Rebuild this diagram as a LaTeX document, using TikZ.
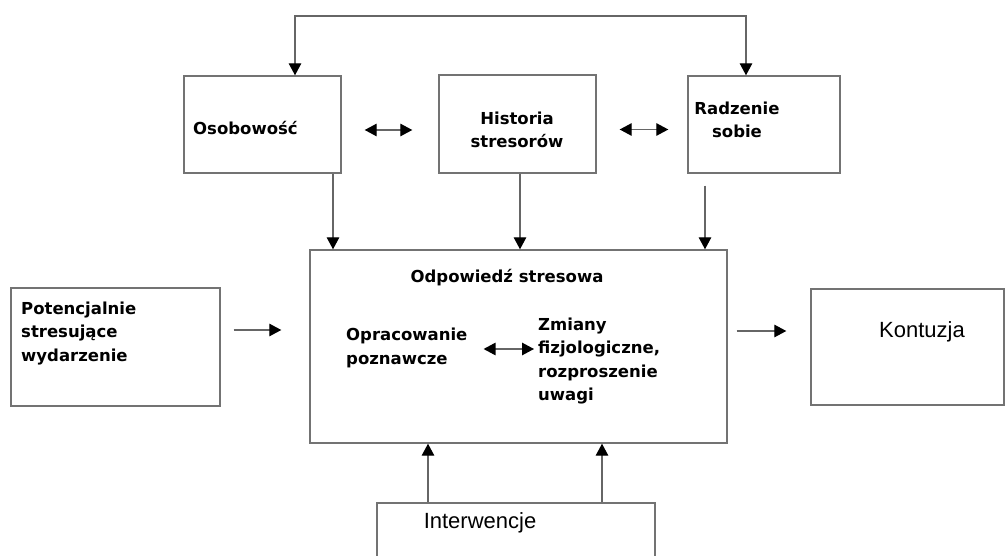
\documentclass[tikz,border=0pt]{standalone}
\usepackage{fontspec}
\setmainfont{DejaVu Sans}
\newfontfamily\arialfont{Liberation Sans}
\usetikzlibrary{arrows.meta}

\begin{document}
\begin{tikzpicture}[x=1pt, y=-1pt, >={Triangle[length=12pt,width=12.5pt,color=black]},
		box/.style={draw=black!55, line width=1.4pt, rectangle, inner sep=0pt},
		txt/.style={font=\fontsize{16.5}{23.5}\selectfont\bfseries, inner sep=0pt},
		big/.style={font=\arialfont\fontsize{22}{25}\selectfont, inner sep=0pt},
		link/.style={draw=black!60, line width=1.3pt, ->}]
	\useasboundingbox (0,0) rectangle (1007,556);
	\clip (0,0) rectangle (1007,556);
	% boxes
	\node[box, minimum width=157pt, minimum height=97pt] (osob) at (262.5,124.5) {};
	\node[box, minimum width=157pt, minimum height=98pt] (hist) at (517.5,124) {};
	\node[box, minimum width=152pt, minimum height=97pt] (radz) at (764,124.5) {};
	\node[box, minimum width=417pt, minimum height=193pt] (odp) at (518.5,346.5) {};
	\node[box, minimum width=209pt, minimum height=118pt] (pot) at (115.5,347) {};
	\node[box, minimum width=193pt, minimum height=116pt] (kont) at (907.5,347) {};
	\node[box, minimum width=278pt, minimum height=110pt] (interw) at (516,558) {};
	% texts
	\node[txt, anchor=west] (tosob) at (193,128) {Osobowość};
	\node[txt, align=center] (thist) at (517,130) {Historia\\stresorów};
	\node[txt, align=center] (tradz) at (737,120) {Radzenie\\sobie};
	\node[txt] (todp) at (507,278) {Odpowiedź stresowa};
	\node[txt, anchor=west, align=left] (topr) at (346,348) {Opracowanie\\poznawcze};
	\node[txt, anchor=west, align=left] (tzmi) at (538,361) {Zmiany\\fizjologiczne,\\rozproszenie\\uwagi};
	\node[txt, anchor=west, align=left] (tpot) at (21,333.5) {Potencjalnie\\stresujące\\wydarzenie};
	\node[big] (tkont) at (922,332) {Kontuzja};
	\node[big] (tinterw) at (480,523) {Interwencje};
	% loop over the top
	\coordinate (loopL) at (295,16);
	\coordinate (loopR) at (746,16);
	\draw[link, <->] (osob.north -| loopL) -- (loopL) -- (loopR) -- (radz.north -| loopR);
	% into the response
	\foreach \n/\dx/\gap in {osob/70.5/0, hist/2.5/0, radz/-59/12}{
		\draw[link, shorten <=\gap pt] ([xshift=\dx pt]\n.south) -- ([xshift=\dx pt]\n.south |- odp.north);
	}
	\foreach \dx in {-88,86}{
		\draw[link] ([xshift=\dx pt]interw.north) -- ([xshift=\dx pt]interw.north |- odp.south);
	}
	% side arrows
	\draw[link, <->, shorten <=23pt, shorten >=26pt] ([yshift=-5.5pt]osob.east) -- ([yshift=-5.5pt]osob.east -| hist.west);
	\draw[link, <->, shorten <=23pt, shorten >=19pt] ([yshift=-5.5pt]hist.east) -- ([yshift=-5.5pt]hist.east -| radz.west);
	\draw[link, shorten <=13pt, shorten >=28pt] ([yshift=17pt]pot.east) -- ([yshift=17pt]pot.east -| odp.west);
	\draw[link, shorten <=9pt, shorten >=24pt] ([yshift=15.5pt]odp.east) -- ([yshift=15.5pt]odp.east -| kont.west);
	\draw[link, <->, shorten <=16pt, shorten >=4pt] ([yshift=-1pt]topr.east) -- ([yshift=-1pt]topr.east -| tzmi.west);
\end{tikzpicture}
\end{document}
